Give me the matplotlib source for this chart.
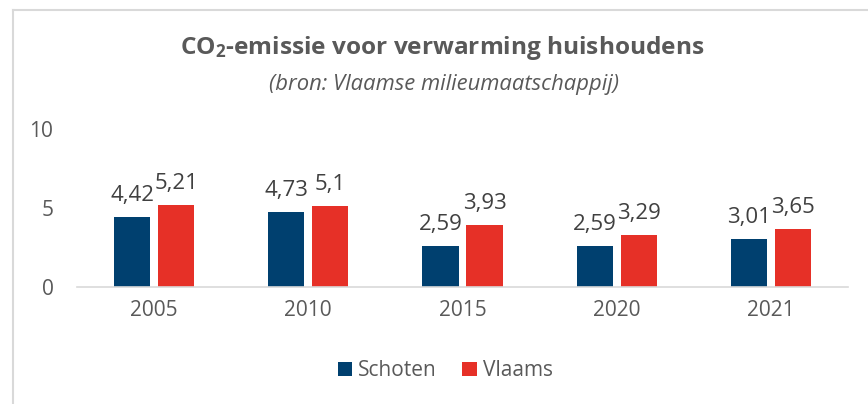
import matplotlib
matplotlib.use("Agg")
import matplotlib.pyplot as plt
import numpy as np

years = ["2005", "2010", "2015", "2020", "2021"]
schoten = [4.42, 4.73, 2.59, 2.59, 3.01]
vlaams = [5.21, 5.1, 3.93, 3.29, 3.65]
yticks = [0, 5, 10]

plt.rcParams["font.family"] = ["Open Sans", "DejaVu Sans"]
plt.rcParams["mathtext.fontset"] = "custom"
plt.rcParams["mathtext.rm"] = "Open Sans:bold"
plt.rcParams["mathtext.default"] = "rm"

grey = "#595959"
c_schoten = "#00406F"
c_vlaams = "#E63027"

fig = plt.figure(figsize=[8.68, 4.04], dpi=100)
ax = fig.add_axes([0.0887, 0.2896, 0.8883, 0.391])

x = np.arange(len(years))
w = 0.235
b1 = ax.bar(x - 0.143, schoten, w, color=c_schoten, label="Schoten")
b2 = ax.bar(x + 0.143, vlaams, w, color=c_vlaams, label="Vlaams")

for bars, vals in [(b1, schoten), (b2, vlaams)]:
    for r, v in zip(bars, vals):
        ax.annotate(f"{v:g}".replace(".", ","), (r.get_x() + r.get_width() / 2, v),
                    xytext=(0, 8), textcoords="offset points",
                    ha="center", va="bottom", fontsize=16, color="#404040")

ax.set_xlim(-0.5, len(years) - 0.5)
ax.set_ylim(0, 10)
ax.set_xticks(x, years)
ax.set_yticks(yticks)
ax.tick_params(axis="both", length=0, labelsize=15, colors=grey)
ax.tick_params(axis="y", pad=17)
ax.tick_params(axis="x", pad=9)
for s in ["top", "right", "left"]:
    ax.spines[s].set_visible(False)
ax.spines["bottom"].set_color("#D9D9D9")
ax.spines["bottom"].set_linewidth(1.2)

fig.text(0.509, 0.88, "CO$_2$-emissie voor verwarming huishoudens", ha="center", va="center",
         fontsize=17.6, fontweight="bold", color=grey)
fig.text(0.512, 0.79, "(bron: Vlaamse milieumaatschappij)", ha="center", va="center",
         fontsize=15.8, fontstyle="italic", color=grey)

fig.legend(loc="center", bbox_to_anchor=(0.513, 0.082), ncol=2, frameon=False,
           fontsize=15, handlelength=0.7, handleheight=0.7, handletextpad=0.3,
           columnspacing=1.2, labelcolor=grey)

# outer frame (left + top only visible)
fig.add_artist(plt.Line2D([0.015, 0.015], [0, 0.975], color="#D9D9D9", lw=1.5))
fig.add_artist(plt.Line2D([0.015, 1.0], [0.975, 0.975], color="#D9D9D9", lw=1.5))

fig.savefig("out.png", dpi=100)
